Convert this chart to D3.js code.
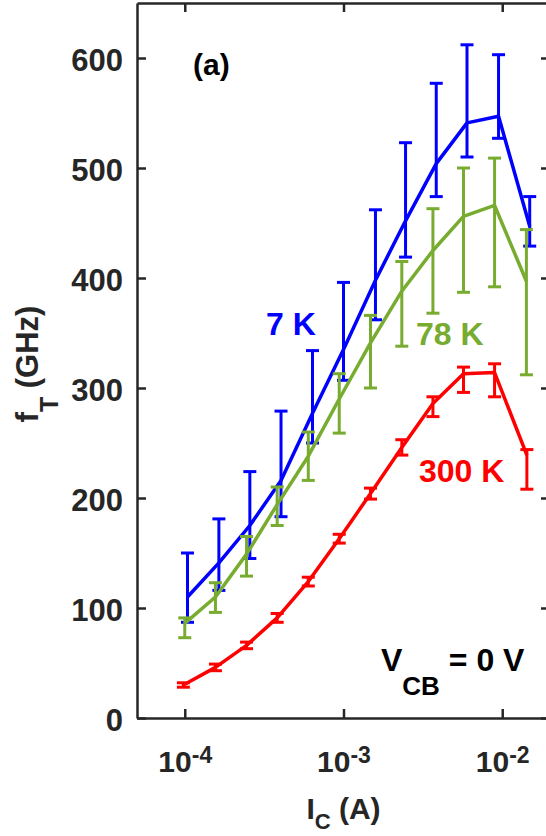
<!DOCTYPE html>
<html lang="en">
<head>
<meta charset="UTF-8">
<title>fT vs IC</title>
<script src="https://d3js.org/d3.v7.min.js"></script>
<style>
  body { margin: 0; background: #fff; }
  text { font-family: "Liberation Sans", Arial, Helvetica, sans-serif; font-weight: bold; }
</style>
</head>
<body>
<svg id="chart" width="546" height="836"></svg>
<script>
  // 7 K (blue)
  const ic7 = [1.04e-4, 1.64e-4, 2.57e-4, 4.04e-4, 6.38e-4, 1.0e-3, 1.59e-3, 2.46e-3, 3.84e-3, 6.0e-3, 9.48e-3, 1.49e-2];
  const ft7 = [110, 141, 175, 216, 277, 335, 398, 452, 504, 541, 547, 447];
  const hi7 = [150, 181, 224, 279, 334, 396, 462, 523, 577, 612, 603, 474];
  const lo7 = [87, 116, 145, 183, 250, 307, 362, 419, 474, 510, 527, 429];

  // 78 K (green)
  const ic78 = [1.0e-4, 1.56e-4, 2.45e-4, 3.82e-4, 6.0e-4, 9.4e-4, 1.48e-3, 2.33e-3, 3.66e-3, 5.7e-3, 8.95e-3, 1.42e-2];
  const ft78 = [86, 110, 149, 194, 238, 290, 341, 388, 425, 456, 466, 397];
  const hi78 = [91, 123, 165, 210, 260, 313, 366, 415, 463, 500, 509, 444];
  const lo78 = [73, 96, 129, 175, 216, 259, 300, 338, 368, 387, 392, 312];

  // 300 K (red)
  const ic300 = [9.8e-5, 1.56e-4, 2.45e-4, 3.82e-4, 6.0e-4, 9.4e-4, 1.48e-3, 2.33e-3, 3.66e-3, 5.7e-3, 8.95e-3, 1.43e-2];
  const ft300 = [30, 46, 66, 91, 124, 163, 204, 246, 286, 313, 314, 239];
  const hi300 = [32, 49, 69, 95, 128, 167, 209, 253, 292, 319, 322, 244];
  const lo300 = [28, 43, 63, 87, 120, 159, 199, 239, 274, 296, 292, 208];

  const yTicks = [0, 100, 200, 300, 400, 500, 600];
  const xTicks = [1e-4, 1e-3, 1e-2];
  const xTickExp = ["-4", "-3", "-2"];

  const series = [
    { name: "7 K", color: "#0000ff", ic: ic7, ft: ft7, hi: hi7, lo: lo7, lx: 266, ly: 335 },
    { name: "78 K", color: "#77ac30", ic: ic78, ft: ft78, hi: hi78, lo: lo78, lx: 416, ly: 345 },
    { name: "300 K", color: "#ff0000", ic: ic300, ft: ft300, hi: hi300, lo: lo300, lx: 419, ly: 482 }
  ];

  const svg = d3.select("#chart");
  const axisColor = "#262626";

  const x = d3.scaleLog().domain([5e-5, 2e-2]).range([137, 550]);
  const y = d3.scaleLinear().domain([0, 650]).range([718, 3]);

  // data
  const plot = svg.append("g");
  series.forEach(s => {
    const pts = s.ic.map((v, i) => ({ x: v, y: s.ft[i], hi: s.hi[i], lo: s.lo[i] }));
    const g = plot.append("g").attr("stroke", s.color).attr("fill", "none");
    const bars = g.selectAll("g.bar").data(pts).enter().append("g").attr("class", "bar")
      .attr("stroke-width", 3);
    bars.append("line")
      .attr("x1", d => x(d.x)).attr("x2", d => x(d.x))
      .attr("y1", d => y(d.hi)).attr("y2", d => y(d.lo));
    bars.append("line")
      .attr("x1", d => x(d.x) - 6.5).attr("x2", d => x(d.x) + 6.5)
      .attr("y1", d => y(d.hi)).attr("y2", d => y(d.hi));
    bars.append("line")
      .attr("x1", d => x(d.x) - 6.5).attr("x2", d => x(d.x) + 6.5)
      .attr("y1", d => y(d.lo)).attr("y2", d => y(d.lo));
    g.append("path")
      .datum(pts)
      .attr("stroke-width", 3.5)
      .attr("stroke-linejoin", "round")
      .attr("d", d3.line().x(d => x(d.x)).y(d => y(d.y)));

    svg.append("text")
      .attr("x", s.lx).attr("y", s.ly)
      .attr("fill", s.color)
      .attr("font-size", 32)
      .text(s.name);
  });

  // axes
  function styleAxis(g) {
    g.select(".domain").attr("stroke", axisColor).attr("stroke-width", 2.5);
    g.selectAll(".tick line").attr("stroke", axisColor).attr("stroke-width", 2.5);
    g.selectAll(".tick text").attr("fill", axisColor);
  }

  svg.append("g")
    .attr("transform", "translate(137,0)")
    .call(d3.axisLeft(y).tickValues(yTicks).tickSizeInner(-9).tickSizeOuter(0).tickPadding(14))
    .call(g => g.selectAll(".tick text").attr("font-size", 31).attr("font-family", null).attr("dy", "0.4em"))
    .call(styleAxis);

  svg.append("g")
    .attr("transform", "translate(550,0)")
    .call(d3.axisRight(y).tickValues(yTicks).tickSizeInner(-9).tickSizeOuter(0).tickFormat(""))
    .call(styleAxis);

  svg.append("g")
    .attr("transform", "translate(0,3)")
    .call(d3.axisTop(x).tickValues(xTicks).tickSizeInner(-9).tickSizeOuter(0).tickFormat(""))
    .call(styleAxis);

  const xAxis = svg.append("g")
    .attr("transform", "translate(0,718)")
    .call(d3.axisBottom(x).tickValues(xTicks).tickSizeInner(-9).tickSizeOuter(0).tickFormat(""))
    .call(styleAxis);

  xAxis.selectAll(".tick text").remove();
  xAxis.selectAll(".tick").each(function(d, i) {
    const t = d3.select(this).append("text")
      .attr("y", 54)
      .attr("text-anchor", "middle")
      .attr("fill", axisColor)
      .attr("font-size", 30);
    t.append("tspan").text("10");
    t.append("tspan").attr("dy", -9).attr("font-size", 23).text(xTickExp[i]);
  });

  // axis labels
  const xl = svg.append("text")
    .attr("x", 343.5).attr("y", 819)
    .attr("text-anchor", "middle")
    .attr("fill", axisColor)
    .attr("font-size", 30);
  xl.append("tspan").text("I");
  xl.append("tspan").attr("dy", 10).attr("font-size", 22).text("C");
  xl.append("tspan").attr("dy", -10).text(" (A)");

  const yl = svg.append("text")
    .attr("transform", "translate(38,364) rotate(-90)")
    .attr("text-anchor", "middle")
    .attr("fill", axisColor)
    .attr("font-size", 31);
  yl.append("tspan").text("f");
  yl.append("tspan").attr("dy", 20).attr("font-size", 25).text("T");
  yl.append("tspan").attr("dy", -20).text(" (GHz)");

  // annotations
  svg.append("text")
    .attr("x", 193).attr("y", 75)
    .attr("fill", "#000")
    .attr("font-size", 30)
    .text("(a)");

  const vcb = svg.append("text")
    .attr("x", 381).attr("y", 671)
    .attr("fill", "#000")
    .attr("font-size", 32);
  vcb.append("tspan").text("V");
  vcb.append("tspan").attr("dy", 24).attr("font-size", 26).text("CB");
  vcb.append("tspan").attr("dy", -24).text(" = 0 V");
</script>
</body>
</html>
